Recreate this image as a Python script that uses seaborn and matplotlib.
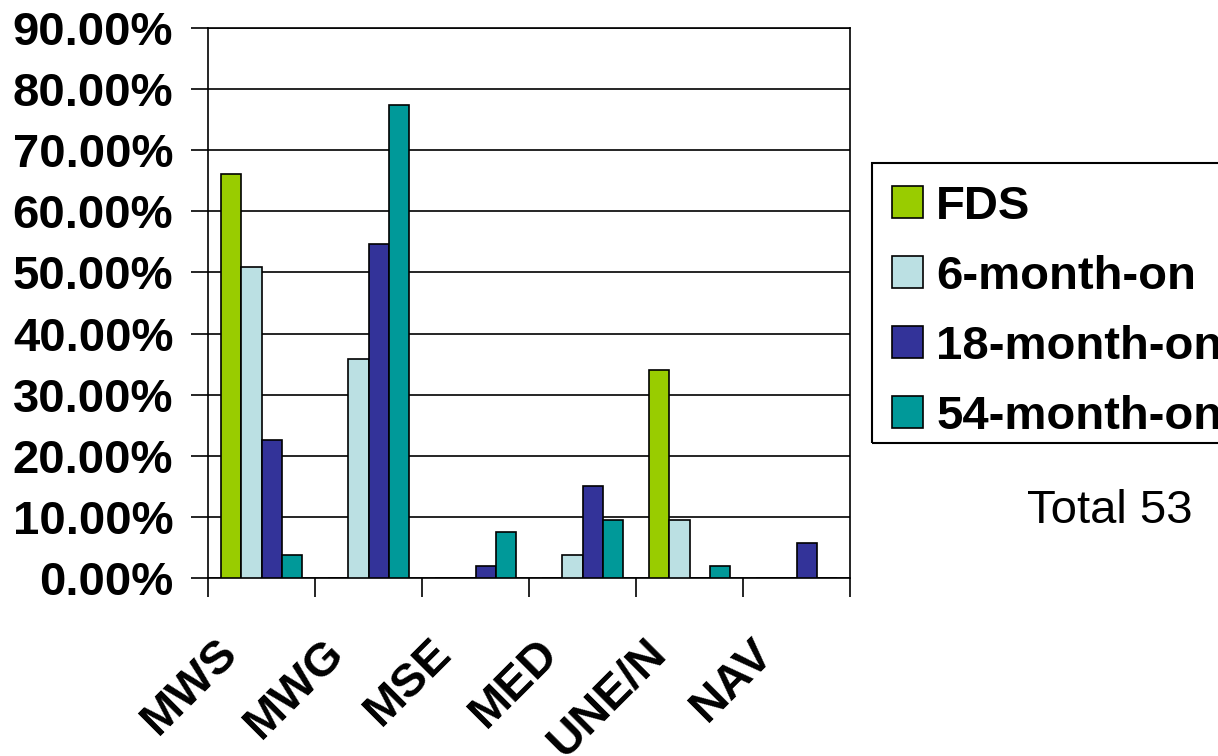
import matplotlib
matplotlib.use("Agg")
import matplotlib.pyplot as plt
import matplotlib.transforms as mtransforms
from matplotlib.patches import Rectangle
from matplotlib.ticker import FixedLocator, FuncFormatter, NullFormatter
import pandas as pd
import seaborn as sns

categories = ["MWS", "MWG", "MSE", "MED", "UNE/N", "NAV"]
series = ["FDS", "6-month-on", "18-month-on", "54-month-on"]
fds = [66.04, 0.0, 0.0, 0.0, 33.96, 0.0]
m6 = [50.94, 35.85, 0.0, 3.77, 9.43, 0.0]
m18 = [22.64, 54.72, 1.89, 15.09, 0.0, 5.66]
m54 = [3.77, 77.36, 7.55, 9.43, 1.89, 0.0]
colors = ["#99CC00", "#BBE0E3", "#333399", "#009999"]
y_ticks = [0, 10, 20, 30, 40, 50, 60, 70, 80, 90]
note = "Total 53"

sns.set_theme(style="white")
plt.rcParams['font.family'] = ['Liberation Sans', 'DejaVu Sans']
plt.rcParams['text.color'] = 'black'
plt.rcParams['xtick.color'] = 'black'
plt.rcParams['ytick.color'] = 'black'
plt.rcParams['xtick.labelcolor'] = 'black'
plt.rcParams['ytick.labelcolor'] = 'black'

rows = []
for s, vals in zip(series, [fds, m6, m18, m54]):
    for c, v in zip(categories, vals):
        rows.append({"category": c, "series": s, "value": v})
df = pd.DataFrame(rows)

W, H = 1218, 756
fig = plt.figure(figsize=(W / 100, H / 100), dpi=100)
ax = fig.add_axes([208 / W, 1 - 578 / H, (850 - 208) / W, (578 - 28) / H])

sns.barplot(data=df, x="category", y="value", hue="series", order=categories,
            hue_order=series, palette=colors, width=0.75, errorbar=None,
            edgecolor="black", linewidth=1.2, saturation=1, ax=ax, zorder=3)

ax.set_ylim(0, 90)
ax.set_xlim(-0.5, len(categories) - 0.5)
ax.yaxis.set_major_locator(FixedLocator(y_ticks))
ax.yaxis.set_major_formatter(FuncFormatter(lambda v, p: f"{v:.2f}%"))
ax.yaxis.grid(True, color="black", linewidth=1.2, zorder=0)
ax.xaxis.grid(False)
ax.set_axisbelow(True)
ax.set_xlabel("")
ax.set_ylabel("")

for sp in ax.spines.values():
    sp.set_visible(True)
    sp.set_color("black")
    sp.set_linewidth(1.2)

# category boundaries as minor ticks, labels on centers
ax.xaxis.set_minor_locator(FixedLocator([i - 0.5 for i in range(len(categories) + 1)]))
ax.xaxis.set_minor_formatter(NullFormatter())
ax.set_xticks(range(len(categories)))
ax.set_xticklabels(categories)
ax.tick_params(axis="x", which="major", length=0, pad=38, labelsize=34)
ax.tick_params(axis="x", which="minor", bottom=True, length=14, width=1.2, color="black", direction="out")
ax.tick_params(axis="y", which="major", left=True, length=12, width=1.2, color="black",
               direction="out", pad=13, labelsize=34)

offset = mtransforms.ScaledTranslation(-15 / 100, 0, fig.dpi_scale_trans)
for lab in ax.get_xticklabels():
    lab.set_rotation(45)
    lab.set_ha("right")
    lab.set_va("top")
    lab.set_fontweight("bold")
    lab.set_color("black")
    lab.set_transform(lab.get_transform() + offset)
for lab in ax.get_yticklabels():
    lab.set_fontweight("bold")
    lab.set_color("black")

handles, labels = ax.get_legend_handles_labels()
for h in handles:
    h.set_edgecolor("black")
    h.set_linewidth(1.2)
leg = ax.legend(handles, labels, loc="upper left", bbox_to_anchor=(872 / W, 1 - 165 / H),
                bbox_transform=fig.transFigure, frameon=False,
                prop={"weight": "bold", "size": 34}, handlelength=0.66, handleheight=0.66,
                handletextpad=0.28, borderpad=0.42, labelspacing=0.55, borderaxespad=0)
for t in leg.get_texts():
    t.set_color("black")

# legend frame box (clipped by the figure edge as in the reference)
frame = Rectangle((872 / W, 1 - 443 / H), 400 / W, (443 - 163) / H,
                  transform=fig.transFigure, fill=False, edgecolor="black",
                  linewidth=1.5, zorder=5)
fig.add_artist(frame)

fig.text(1110 / W, 1 - 511 / H, note, ha="center", va="center", fontsize=34, color="black")

fig.savefig("out.png", dpi=100)
